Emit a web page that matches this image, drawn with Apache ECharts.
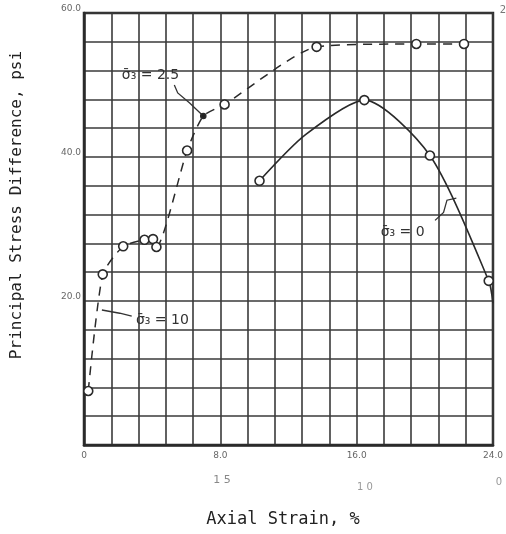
<!DOCTYPE html>
<html>
<head>
<meta charset="utf-8">
<script src="https://cdn.jsdelivr.net/npm/echarts@6/dist/echarts.min.js"></script>
<style>
html, body { margin: 0; padding: 0; background: #fff; }
#chart { width: 506px; height: 534px; }
</style>
</head>
<body>
<div id="chart"></div>
<script>
// values (axial strain %, stress difference psi)
var dashedStrain = [0.25, 1.1, 2.3, 3.55, 4.05, 4.25, 6.05, 7.0, 8.25, 13.65, 19.5, 22.3];
var dashedStress = [7.5, 23.7, 27.6, 28.5, 28.6, 27.5, 40.9, 45.7, 47.3, 55.3, 55.7, 55.7];
var solidStrain = [10.3, 13.0, 16.45, 20.3, 23.75, 24.0];
var solidStress = [36.7, 43.1, 47.9, 40.2, 22.8, 19.7];
var solidMarked = [true, false, true, true, true, false];
var xLabels = { 0: "0", 8: "8.0", 16: "16.0", 24: "24.0" };
var yLabels = { 20: "20.0", 40: "40.0", 60: "60.0" };

function pairs(xs, ys) {
  var out = [];
  for (var i = 0; i < xs.length; i++) out.push([xs[i], ys[i]]);
  return out;
}
function pick(map, v) {
  for (var k in map) {
    if (Math.abs(v - k) < 1e-6) return map[k];
  }
  return "";
}

var dashedData = pairs(dashedStrain, dashedStress).map(function(p, i) {
  // the pen dot the sigma label points at is filled
  if (i == 7) return { value: p, symbolSize: 5, itemStyle: { color: "#222" } };
  return p;
});
var solidData = pairs(solidStrain, solidStress).map(function(p, i) {
  return solidMarked[i] ? p : { value: p, symbol: "none" };
});

var chart = echarts.init(document.getElementById("chart"));
var ink = "#2a2a2a";
var labelStyle = { color: "#666", fontSize: 9, fontFamily: "DejaVu Sans" };

chart.setOption({
  animation: false,
  backgroundColor: "#fff",
  grid: { left: 84, right: 11, top: 13, bottom: 89, show: true, borderColor: ink, borderWidth: 2.5 },
  xAxis: {
    type: "value", min: 0, max: 24, interval: 1.6,
    axisLine: { show: true, lineStyle: { color: ink, width: 2.5 } },
    axisTick: { show: false },
    splitLine: { show: true, lineStyle: { color: "#3a3a3a", width: 1.6 } },
    axisLabel: Object.assign({ margin: 6, formatter: function(v) { return pick(xLabels, v); } }, labelStyle)
  },
  yAxis: {
    type: "value", min: 0, max: 60, interval: 4,
    axisLine: { show: true, lineStyle: { color: ink, width: 2.5 } },
    axisTick: { show: false },
    splitLine: { show: true, lineStyle: { color: "#3a3a3a", width: 1.6 } },
    axisLabel: Object.assign({ margin: 3, verticalAlign: "bottom", formatter: function(v) { return pick(yLabels, v); } }, labelStyle)
  },
  series: [
    {
      type: "line", data: dashedData, smooth: 0.2,
      symbol: "circle", symbolSize: 9,
      itemStyle: { color: "#fff", borderColor: ink, borderWidth: 1.6 },
      lineStyle: { color: ink, width: 1.5, type: [9, 7] }
    },
    {
      type: "line", data: solidData, smooth: 0.25,
      symbol: "circle", symbolSize: 9,
      itemStyle: { color: "#fff", borderColor: ink, borderWidth: 1.6 },
      lineStyle: { color: ink, width: 1.6 }
    }
  ]
});

// hand lettered notes, anchored in data space
var notes = [
  { text: "σ̄₃ = 2.5", at: [3.9, 51.3], line: [[5.3, 50.0], [5.5, 48.9], [6.2, 47.5], [7.0, 45.7]] },
  { text: "σ̄₃ = 10", at: [4.6, 17.3], line: [[2.8, 17.9], [2.1, 18.3], [1.05, 18.75]] },
  { text: "σ̄₃ = 0", at: [18.7, 29.6], line: [[20.6, 31.2], [21.1, 32.3], [21.3, 34.0], [21.85, 34.3]] }
];
var graphics = [];
notes.forEach(function(n) {
  var p = chart.convertToPixel({ gridIndex: 0 }, n.at);
  graphics.push({
    type: "text", x: p[0], y: p[1],
    style: { text: n.text, fill: "#333", font: "14px 'DejaVu Sans'", align: "center", verticalAlign: "middle" }
  });
  graphics.push({
    type: "polyline",
    shape: { points: n.line.map(function(q) { return chart.convertToPixel({ gridIndex: 0 }, q); }) },
    style: { stroke: "#333", lineWidth: 1.3, fill: null }
  });
});
graphics.push(
  { type: "text", x: 17, y: 205, rotation: Math.PI / 2,
    style: { text: "Principal Stress Difference, psi", fill: "#222", font: "16px 'DejaVu Sans Mono'", align: "center", verticalAlign: "middle" } },
  { type: "text", x: 283, y: 520,
    style: { text: "Axial Strain, %", fill: "#222", font: "17px 'DejaVu Sans Mono'", align: "center", verticalAlign: "middle" } },
  { type: "text", x: 222, y: 480, style: { text: "1 5", fill: "#888", font: "11px 'DejaVu Sans'", align: "center", verticalAlign: "middle" } },
  { type: "text", x: 365, y: 487, style: { text: "1 0", fill: "#999", font: "10px 'DejaVu Sans'", align: "center", verticalAlign: "middle" } },
  { type: "text", x: 499, y: 482, style: { text: "0", fill: "#999", font: "10px 'DejaVu Sans'", align: "center", verticalAlign: "middle" } },
  { type: "text", x: 503, y: 10, style: { text: "2", fill: "#777", font: "10px 'DejaVu Sans'", align: "center", verticalAlign: "middle" } }
);
chart.setOption({ graphic: graphics });
</script>
</body>
</html>
